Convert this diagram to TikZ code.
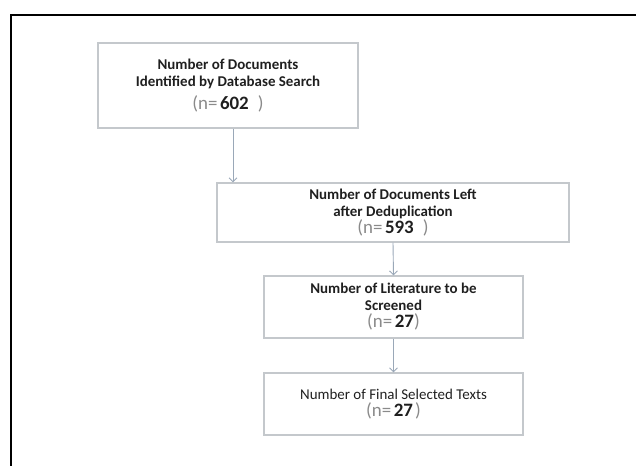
\documentclass[tikz,border=0pt]{standalone}
\usepackage{fontspec}
\setmainfont{Carlito}
\usetikzlibrary{arrows.meta}
\definecolor{boxgray}{HTML}{C4C8CC}
\definecolor{flowblue}{HTML}{9AA8B8}
\definecolor{ngray}{HTML}{8A8A8A}
\newcommand{\ncount}[2]{{\color{ngray}\fontsize{19}{20}\selectfont(n=}\,{\bfseries\fontsize{19}{20}\selectfont #1}#2{\color{ngray}\fontsize{19}{20}\selectfont)}}

\begin{document}
\begin{tikzpicture}[
                x=1bp, y=-1bp,
                stage/.style={draw=boxgray, line width=1.2bp, align=center, inner sep=0pt,
                    font=\fontsize{15}{17}\selectfont, text=black!88},
                flow/.style={draw=flowblue, line width=0.9bp, -{Straight Barb[length=4bp,width=8bp]}}
            ]
                \useasboundingbox (0,0) rectangle (636,466);
                \draw[line width=1.5bp] (11,470) -- (11,15) -- (640,15);
                \node[stage, minimum width=260bp, minimum height=85bp] (found) at (228,85.5)
                    {\bfseries Number of Documents\\ \bfseries Identified by Database Search\\[6bp]
                     \ncount{602}{\hspace{9bp}}};
                \node[stage, minimum width=352bp, minimum height=59bp] (unique) at (393,212.5)
                    {\bfseries Number of Documents Left\\ \bfseries after Deduplication\\
                     \ncount{593}{\hspace{9bp}}};
                \node[stage, minimum width=259bp, minimum height=62bp] (screened) at (393.5,307)
                    {\bfseries Number of Literature to be\\ \bfseries Screened\\
                     \ncount{27}{}};
                \node[stage, minimum width=259bp, minimum height=62bp] (selected) at (393.5,404)
                    {Number of Final Selected Texts\\
                     \ncount{27}{\hspace{2bp}}};
                \draw[flow] ([xshift=5bp]found.south) -- ([xshift=5bp]found.south |- unique.north);
                \draw[flow] (unique.south) -- (screened.north);
                \draw[flow] (screened.south) -- (selected.north);
            \end{tikzpicture}
\end{document}
